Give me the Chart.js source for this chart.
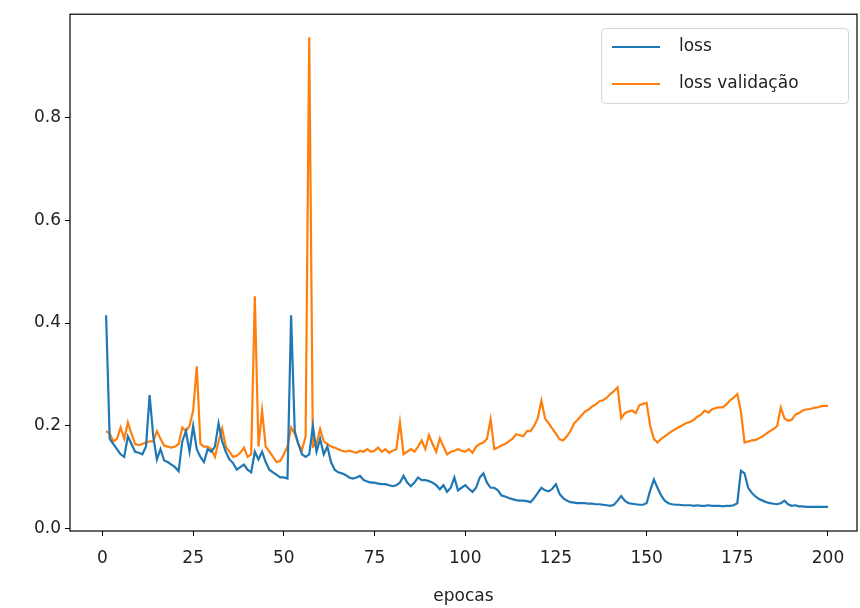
<!DOCTYPE html>
<html>
<head>
<meta charset="utf-8">
<script src="https://cdn.jsdelivr.net/npm/chart.js@4/dist/chart.umd.min.js"></script>
<style>
  html, body { margin: 0; padding: 0; background: #fff; overflow: hidden; }
  #box { width: 860px; height: 608px; }
</style>
</head>
<body>
<div id="box"><canvas id="grafico"></canvas></div>
<script>
// epocas 1..200
const epocas = Array.from({ length: 200 }, (_, i) => i + 1);

const loss = [
  0.415, 0.175, 0.165, 0.155, 0.145, 0.140, 0.180, 0.165, 0.150, 0.148,
  0.145, 0.160, 0.260, 0.180, 0.135, 0.155, 0.133, 0.130, 0.125, 0.120,
  0.112, 0.170, 0.190, 0.150, 0.200, 0.155, 0.140, 0.130, 0.155, 0.150,
  0.160, 0.205, 0.170, 0.150, 0.135, 0.128, 0.115, 0.120, 0.125, 0.115,
  0.110, 0.150, 0.135, 0.150, 0.130, 0.115, 0.110, 0.105, 0.100, 0.100,
  0.098, 0.415, 0.190, 0.165, 0.145, 0.140, 0.145, 0.200, 0.150, 0.175,
  0.145, 0.160, 0.130, 0.115, 0.110, 0.108, 0.105, 0.100, 0.098, 0.100,
  0.103, 0.095, 0.092, 0.090, 0.090, 0.088, 0.087, 0.087, 0.085, 0.083,
  0.085, 0.090, 0.103, 0.090, 0.083, 0.090, 0.100, 0.095, 0.095, 0.093,
  0.090, 0.085, 0.077, 0.085, 0.072, 0.080, 0.100, 0.075, 0.080, 0.085,
  0.078, 0.072, 0.080, 0.100, 0.108, 0.090, 0.080, 0.080, 0.075, 0.065,
  0.063, 0.060, 0.058, 0.056, 0.055, 0.055, 0.054, 0.052, 0.060, 0.070,
  0.080, 0.075, 0.073, 0.078, 0.087, 0.068, 0.060, 0.055, 0.052, 0.051,
  0.050, 0.050, 0.050, 0.049, 0.049, 0.048, 0.048, 0.047, 0.046, 0.045,
  0.047, 0.055, 0.064, 0.055, 0.050, 0.049, 0.048, 0.047, 0.047, 0.050,
  0.075, 0.096, 0.080, 0.065, 0.055, 0.050, 0.048, 0.047, 0.047, 0.046,
  0.046, 0.046, 0.045, 0.046, 0.045, 0.045, 0.046, 0.045, 0.045, 0.045,
  0.044, 0.045, 0.045, 0.046, 0.050, 0.113, 0.108, 0.080, 0.070, 0.063,
  0.058, 0.055, 0.052, 0.050, 0.049, 0.048, 0.050, 0.055, 0.048, 0.045,
  0.046, 0.044, 0.044, 0.043, 0.043, 0.043, 0.043, 0.043, 0.043, 0.043
];

const lossValidacao = [
  0.190, 0.185, 0.170, 0.175, 0.197, 0.175, 0.207, 0.185, 0.165, 0.163,
  0.165, 0.168, 0.170, 0.170, 0.190, 0.175, 0.162, 0.160, 0.158, 0.160,
  0.165, 0.197, 0.190, 0.200, 0.230, 0.316, 0.165, 0.160, 0.160, 0.155,
  0.140, 0.170, 0.195, 0.160, 0.150, 0.140, 0.142, 0.148, 0.158, 0.140,
  0.145, 0.452, 0.160, 0.230, 0.160, 0.150, 0.140, 0.130, 0.132, 0.145,
  0.160, 0.197, 0.185, 0.165, 0.153, 0.180, 0.955, 0.160, 0.165, 0.194,
  0.170, 0.165, 0.160, 0.158, 0.155, 0.152, 0.150, 0.152, 0.150, 0.148,
  0.152, 0.150, 0.155, 0.150, 0.152, 0.158, 0.150, 0.155, 0.148, 0.152,
  0.155, 0.207, 0.145, 0.150, 0.155, 0.150, 0.160, 0.172, 0.155, 0.182,
  0.165, 0.150, 0.176, 0.160, 0.145, 0.150, 0.152, 0.155, 0.152, 0.150,
  0.155, 0.148, 0.160, 0.165, 0.168, 0.175, 0.213, 0.155, 0.158, 0.162,
  0.165, 0.170, 0.175, 0.184, 0.182, 0.180, 0.190, 0.190, 0.200, 0.215,
  0.249, 0.215, 0.205, 0.195, 0.185, 0.174, 0.172, 0.180, 0.190, 0.205,
  0.212, 0.220, 0.228, 0.232, 0.238, 0.242, 0.248, 0.250, 0.255, 0.262,
  0.268, 0.275, 0.215, 0.225, 0.228, 0.230, 0.225, 0.240, 0.243, 0.245,
  0.200, 0.175, 0.168, 0.175, 0.180, 0.185, 0.190, 0.194, 0.198, 0.202,
  0.206, 0.208, 0.212, 0.218, 0.222, 0.230, 0.226, 0.232, 0.235, 0.236,
  0.236, 0.242, 0.250, 0.255, 0.262, 0.228, 0.168, 0.170, 0.172, 0.173,
  0.176, 0.180, 0.185, 0.190, 0.194, 0.200, 0.236, 0.215, 0.210, 0.212,
  0.222, 0.225, 0.230, 0.232, 0.233, 0.235, 0.236, 0.238, 0.239, 0.239
];

const xTicks = [0, 25, 50, 75, 100, 125, 150, 175, 200];
const yTicks = [0.0, 0.2, 0.4, 0.6, 0.8];

const fonte = { family: "'DejaVu Sans', sans-serif", size: 17 };

// moldura completa (4 lados) como no matplotlib
const moldura = {
  id: 'moldura',
  afterDatasetsDraw(chart) {
    const { ctx, chartArea: a } = chart;
    ctx.save();
    ctx.strokeStyle = '#000';
    ctx.lineWidth = 1.2;
    ctx.strokeRect(a.left, a.top, a.right - a.left, a.bottom - a.top);
    ctx.restore();
  }
};

// legenda no canto superior direito, dentro do gráfico
const legendaBox = {
  id: 'legendaBox',
  afterDraw(chart) {
    const ctx = chart.ctx;
    const x = 601, y = 28, w = 247, h = 75;
    ctx.save();
    ctx.fillStyle = 'rgba(255,255,255,0.8)';
    ctx.strokeStyle = '#d6d6d6';
    ctx.lineWidth = 1;
    ctx.beginPath();
    ctx.roundRect(x + 0.5, y + 0.5, w, h, 4);
    ctx.fill();
    ctx.stroke();
    ctx.font = "17px 'DejaVu Sans', sans-serif";
    ctx.textBaseline = 'middle';
    chart.data.datasets.forEach((ds, i) => {
      const cy = y + 19 + i * 37;
      ctx.strokeStyle = ds.borderColor;
      ctx.lineWidth = 2.2;
      ctx.beginPath();
      ctx.moveTo(x + 11, cy);
      ctx.lineTo(x + 59, cy);
      ctx.stroke();
      ctx.fillStyle = '#222';
      ctx.fillText(ds.label, x + 78, cy);
    });
    ctx.restore();
  }
};

const ctx = document.getElementById('grafico').getContext('2d');
const grafico = new Chart(ctx, {
  type: 'line',
  data: {
    datasets: [{
      label: 'loss',
      data: loss.map((v, i) => ({ x: epocas[i], y: v })),
      borderColor: '#1f77b4',
      borderWidth: 2.2,
      pointRadius: 0,
      tension: 0
    }, {
      label: 'loss validação',
      data: lossValidacao.map((v, i) => ({ x: epocas[i], y: v })),
      borderColor: '#ff7f0e',
      borderWidth: 2.2,
      pointRadius: 0,
      tension: 0
    }]
  },
  options: {
    responsive: true,
    maintainAspectRatio: false,
    animation: false,
    layout: { padding: { top: 14, right: 3, left: 0, bottom: 0 } },
    plugins: {
      legend: { display: false },
      tooltip: { enabled: false }
    },
    scales: {
      x: {
        type: 'linear',
        min: -8.95,
        max: 208,
        afterBuildTicks: s => { s.ticks = xTicks.map(v => ({ value: v })); },
        afterFit: s => { s.height = 77; },
        grid: { drawOnChartArea: false, drawTicks: true, tickLength: 5, tickColor: '#000' },
        border: { display: false },
        ticks: { color: '#222', font: fonte, padding: 12, maxRotation: 0 },
        title: { display: true, text: 'epocas', color: '#222', font: fonte, padding: { top: 0, bottom: 1 } }
      },
      y: {
        min: -0.004,
        max: 1.0,
        afterBuildTicks: s => { s.ticks = yTicks.map(v => ({ value: v })); },
        afterFit: s => { s.width = 70; },
        grid: { drawOnChartArea: false, drawTicks: true, tickLength: 5, tickColor: '#000' },
        border: { display: false },
        ticks: { color: '#222', font: fonte, padding: 4, callback: v => v.toFixed(1) }
      }
    }
  },
  plugins: [moldura, legendaBox]
});
</script>
</body>
</html>
